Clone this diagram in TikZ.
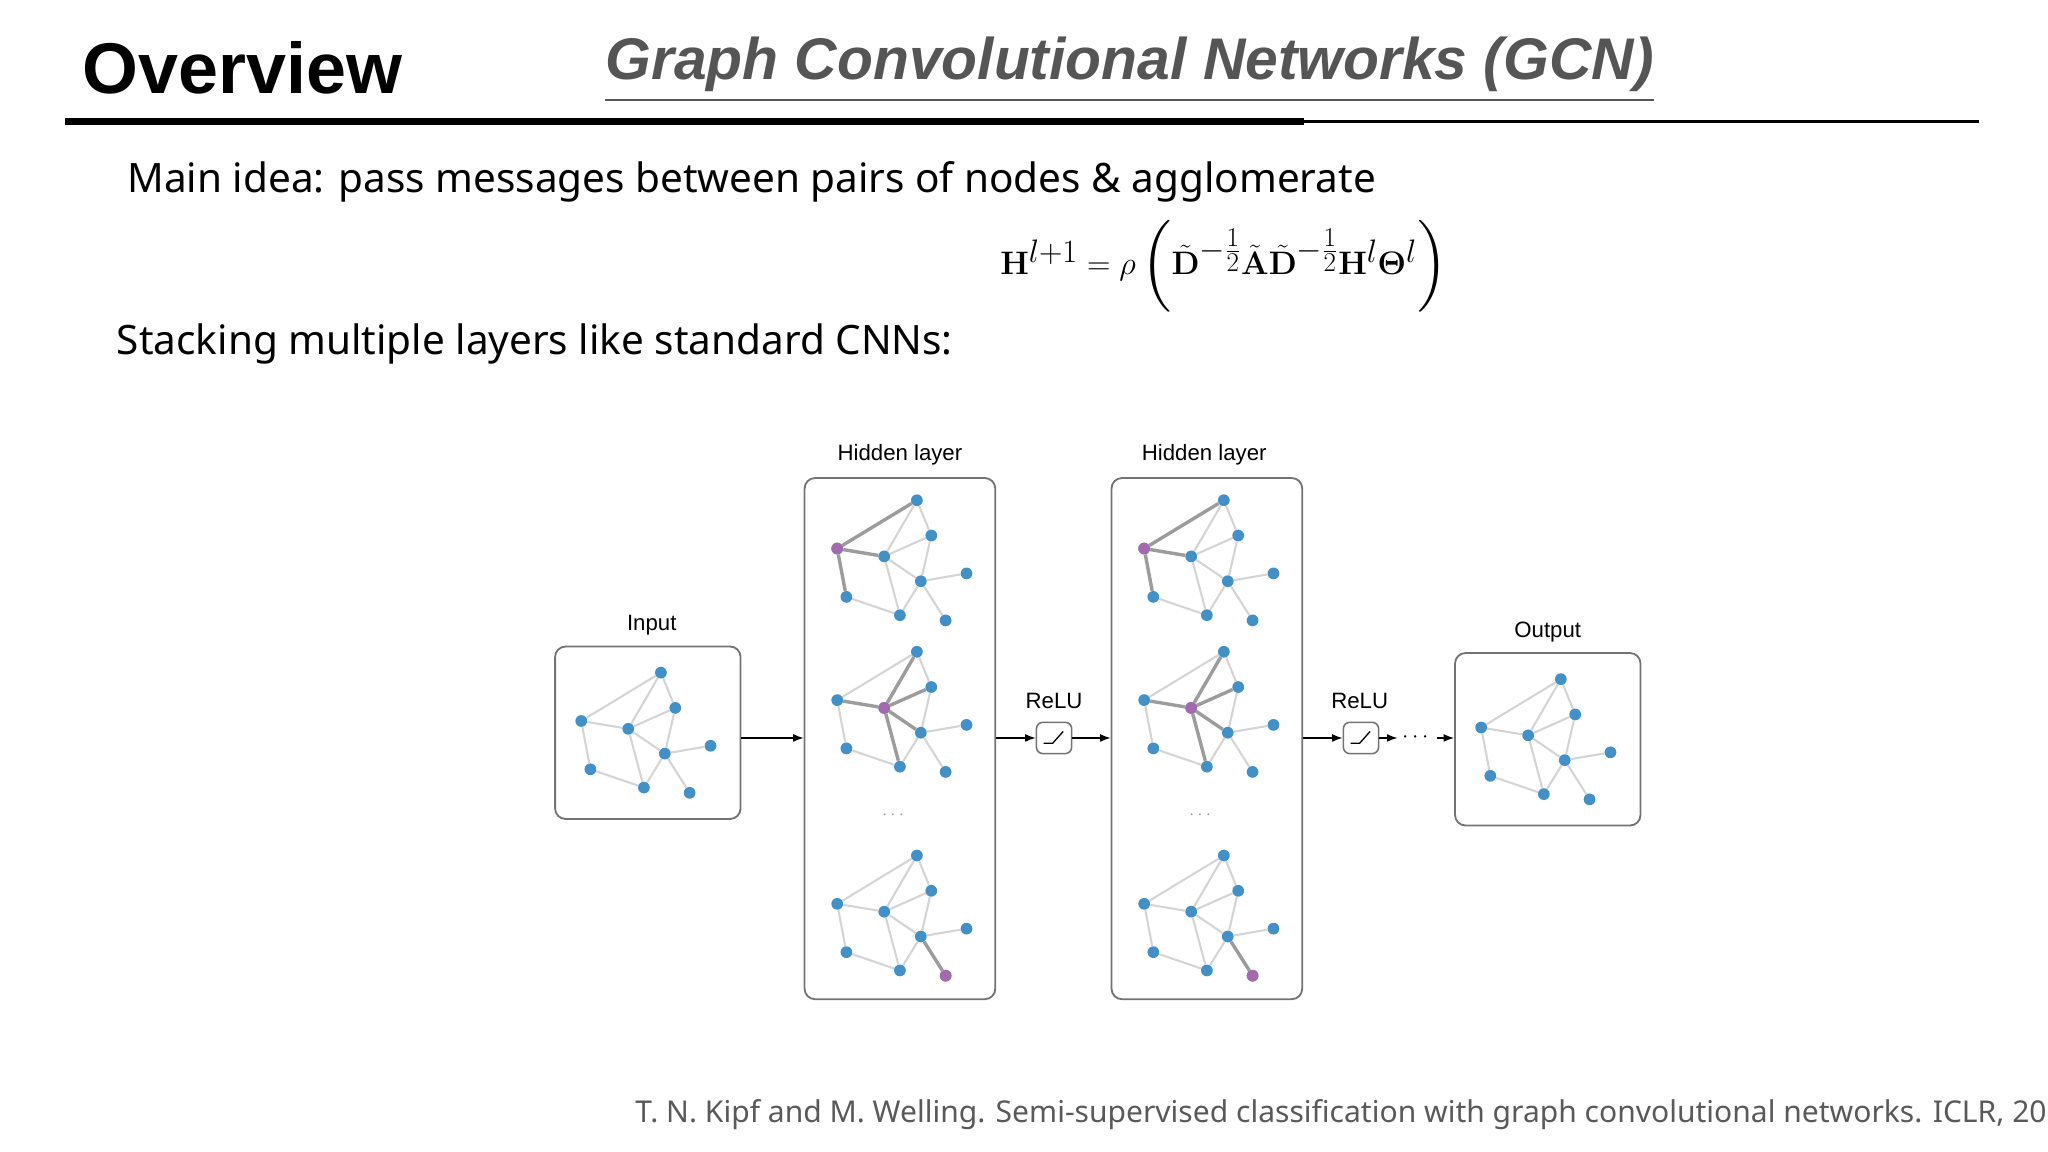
\documentclass[tikz,border=0pt]{standalone}
\usepackage{amsmath}
\usepackage{amssymb}
\usepackage[no-math]{fontspec}
\setmainfont{Noto Sans}
\newfontfamily\headfont{Liberation Sans}
\usetikzlibrary{backgrounds,arrows.meta}
\definecolor{nodeblue}{HTML}{4390C6}
\definecolor{nodepurple}{HTML}{A569AE}
\definecolor{edgegray}{HTML}{D4D4D4}
\definecolor{hlgray}{HTML}{9C9C9C}
\definecolor{titlegray}{HTML}{555555}
\tikzset{
  gnode/.style={circle,fill=nodeblue,inner sep=0pt,minimum size=9pt},
  pnode/.style={gnode,fill=nodepurple},
  gedge/.style={draw=edgegray,line width=1.6pt},
  hedge/.style={draw=hlgray,line width=2.6pt},
  panel/.style={draw=black!55,line width=1.4pt,rounded corners=8pt},
  relubox/.style={draw=black!55,line width=1.2pt,rounded corners=5pt,minimum width=27pt,minimum height=24pt},
  flow/.style={-{Latex[length=8pt,width=6pt]},line width=1pt},
  lbl/.style={font=\headfont\fontsize{17}{20}\selectfont}
}
% one small graph, #1 = prefix, (#2,#3) = shift
\newcommand{\gcngraph}[3]{%
  \begin{scope}[shift={(#2,#3)}]
    \foreach \n/\px/\py in {a/506/515,b/517/542,c/445/552,d/481/558,e/509/577,f/544/571,g/452/589,h/493/603,i/528/607}
      \node[gnode] (#1\n) at (\px,\py) {};
    \begin{scope}[on background layer]
      \foreach \u/\v in {c/a,a/d,a/b,d/b,c/d,d/e,b/e,e/f,c/g,g/h,d/h,h/e,e/i}
        \draw[gedge] (#1\u) -- (#1\v);
    \end{scope}
  \end{scope}}
\begin{document}
\begin{tikzpicture}[x=1pt,y=-1pt]
\useasboundingbox (0,0) rectangle (1568,882);
\clip (0,0) rectangle (1568,882);
% header
\node[anchor=west,font=\headfont\bfseries\fontsize{55}{60}\selectfont] (head) at (60,52) {Overview};
\node[anchor=west,text=titlegray,font=\headfont\bfseries\itshape\fontsize{45}{50}\selectfont] (title) at (460,54) {\underline{Graph Convolutional Networks (GCN)}};
\coordinate (rulea) at (50,93);
\coordinate (ruleb) at (998,93);
\coordinate (rulec) at (1515,93);
\draw[line width=6pt] (rulea) -- (ruleb);
\draw[line width=2.6pt] (ruleb) -- (rulec);
% text
\node[anchor=west,font=\fontsize{31}{36}\selectfont] (idea) at (94,139) {Main idea: pass messages between pairs of nodes \& agglomerate};
\node[font=\fontsize{39}{44}\selectfont] (eq) at (937,204)
  {$\mathbf{H}^{l+1}=\rho\left(\tilde{\mathbf{D}}^{-\frac12}\tilde{\mathbf{A}}\tilde{\mathbf{D}}^{-\frac12}\mathbf{H}^{l}\boldsymbol{\Theta}^{l}\right)$};
\node[anchor=west,font=\fontsize{31}{36}\selectfont] (stack) at (86,263) {Stacking multiple layers like standard CNNs:};
\node[anchor=west,text=black!65,font=\fontsize{23}{28}\selectfont] (cite) at (483,853) {T. N. Kipf and M. Welling. Semi-supervised classification with graph convolutional networks. ICLR, 2017};
% panels
\node[panel,minimum width=142pt,minimum height=132pt] (inbox) at (496,561) {};
\node[panel,minimum width=146pt,minimum height=399pt] (hid1) at (689,565.5) {};
\node[panel,minimum width=146pt,minimum height=399pt] (hid2) at (924,565.5) {};
\node[panel,minimum width=142pt,minimum height=132pt] (outbox) at (1185,566) {};
\node[lbl] at (499,479) {Input};
\node[lbl] at (689,348) {Hidden layer};
\node[lbl] at (922,348) {Hidden layer};
\node[lbl] at (1185,484) {Output};
\node[text=black!40,font=\fontsize{14}{14}\selectfont] (dots1) at (685,624) {$\cdots$};
\node[text=black!40,font=\fontsize{14}{14}\selectfont] (dots2) at (920,624) {$\cdots$};
% graphs
\gcngraph{in}{0}{0}
\gcngraph{pa}{196}{-132}
\gcngraph{pb}{196}{-16}
\gcngraph{pc}{196}{140}
\gcngraph{qa}{431}{-132}
\gcngraph{qb}{431}{-16}
\gcngraph{qc}{431}{140}
\gcngraph{out}{689}{5}
% highlighted neighbourhoods
\foreach \g in {pa,qa}{
  \begin{scope}[on background layer]
    \foreach \v in {a,d,g} \draw[hedge] (\g c) -- (\g\v);
  \end{scope}
  \node[pnode] (\g hl) at (\g c) {};
}
\foreach \g in {pb,qb}{
  \begin{scope}[on background layer]
    \foreach \v in {a,b,c,e,h} \draw[hedge] (\g d) -- (\g\v);
  \end{scope}
  \node[pnode] (\g hl) at (\g d) {};
}
\foreach \g in {pc,qc}{
  \begin{scope}[on background layer]
    \draw[hedge] (\g e) -- (\g i);
  \end{scope}
  \node[pnode] (\g hl) at (\g i) {};
}
% relu blocks
\node[relubox] (relu1) at (807,565) {};
\node[relubox] (relu2) at (1042,565) {};
\node[lbl] at (807,537) {ReLU};
\node[lbl] at (1041,537) {ReLU};
\foreach \r in {relu1,relu2}
  \draw[line width=1pt] ([xshift=-8pt,yshift=-4pt]\r.center) -- ([xshift=-1pt,yshift=-4pt]\r.center) -- ([xshift=7pt,yshift=5pt]\r.center);
\node[font=\fontsize{16}{16}\selectfont] (more) at (1085,565) {$\cdots$};
% flow
\draw[flow] (inbox.east |- relu1.center) -- (hid1.west |- relu1.center);
\draw[flow] (hid1.east |- relu1.center) -- (relu1);
\draw[flow] (relu1) -- (hid2.west |- relu1.center);
\draw[flow] (hid2.east |- relu1.center) -- (relu2);
\draw[flow] (relu2) -- (more);
\draw[flow] (more) -- (outbox.west |- relu1.center);
\end{tikzpicture}
\end{document}
